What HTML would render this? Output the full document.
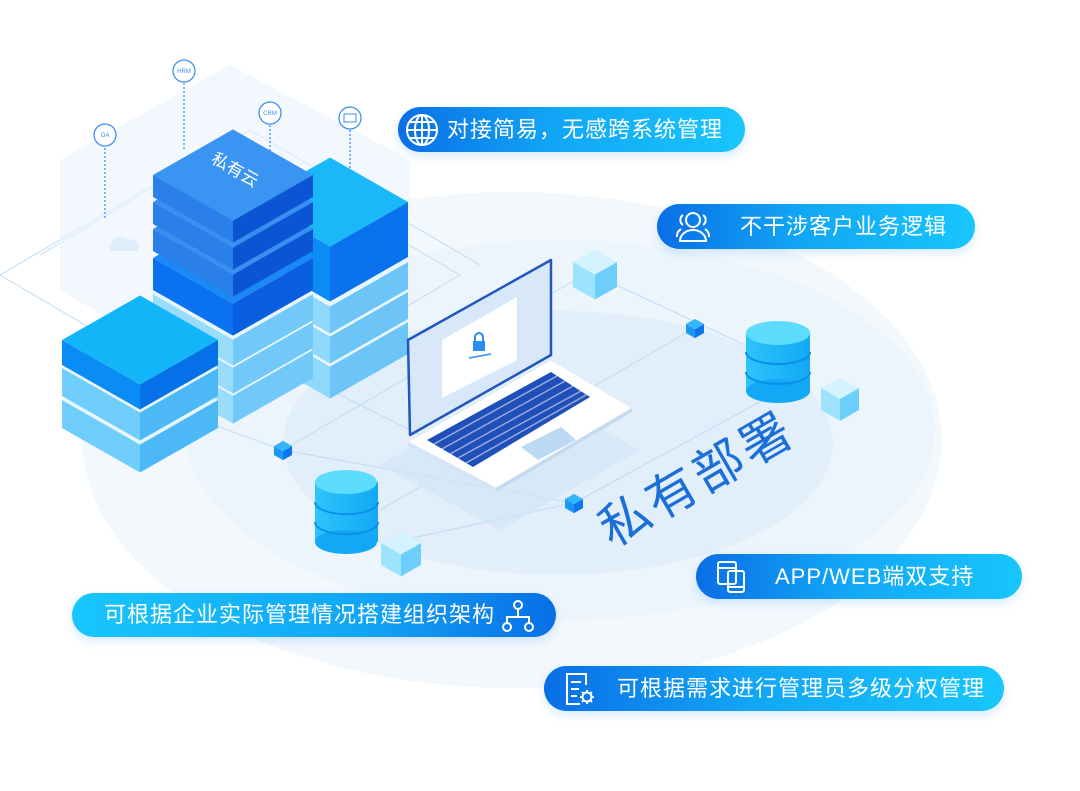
<!DOCTYPE html>
<html><head><meta charset="utf-8"><style>
html,body{margin:0;padding:0;background:#fff;}
body{width:1080px;height:791px;overflow:hidden;position:relative;font-family:"Liberation Sans","Noto Sans CJK SC",sans-serif;}
svg{position:absolute;left:0;top:0;}
.pill{position:absolute;height:45px;border-radius:23px;color:#fff;font-size:22px;letter-spacing:1px;line-height:45px;white-space:nowrap;box-shadow:0 4px 10px rgba(30,140,240,.18);}
.g1{background:linear-gradient(90deg,#0a6ee6,#12a6f5 45%,#18c6fc);}
.g2{background:linear-gradient(90deg,#18c6fc,#12a6f5 60%,#0a6ee6);}
.pill svg{position:absolute;}
.pill span{position:absolute;top:0;}
</style></head><body>
<svg width="1080" height="791" viewBox="0 0 1080 791">
<defs>
<linearGradient id="cyl" x1="0" x2="1"><stop offset="0" stop-color="#2ec4fb"/><stop offset="1" stop-color="#12a8f5"/></linearGradient>
</defs>
<ellipse cx="512" cy="440" rx="430" ry="248" fill="#f3f8fd"/>
<ellipse cx="560" cy="430" rx="375" ry="190" fill="#edf5fc"/>
<ellipse cx="558" cy="443" rx="275" ry="132" fill="#e2eef9"/>
<g stroke="#b9daf5" stroke-width="1" fill="none" opacity=".9">
<polyline points="0,275 230,140 460,275 230,410 0,275"/>
<polyline points="40,255 250,130 480,265"/>
<line x1="283" y1="450" x2="580" y2="277"/>
<line x1="283" y1="450" x2="574" y2="503"/>
<line x1="380" y1="510" x2="695" y2="328"/>
<line x1="574" y1="503" x2="800" y2="380"/>
<line x1="595" y1="275" x2="777" y2="360"/>
<line x1="380" y1="545" x2="574" y2="503"/>
<line x1="200" y1="420" x2="283" y2="450"/>
<line x1="330" y1="390" x2="430" y2="440"/>
</g>
<polygon points="60,160 230,65 410,160 410,290 230,390 60,290" fill="#eaf4fd" opacity=".6"/>
<g stroke="#3d8ff0" fill="#fff" stroke-width="1.3">
<line x1="105" y1="148" x2="105" y2="220" stroke-dasharray="2 2"/>
<line x1="184" y1="83" x2="184" y2="150" stroke-dasharray="2 2"/>
<line x1="270" y1="125" x2="270" y2="190" stroke-dasharray="2 2"/>
<line x1="350" y1="130" x2="350" y2="200" stroke-dasharray="2 2"/>
<circle cx="105" cy="135" r="11"/><circle cx="184" cy="71" r="11"/><circle cx="270" cy="113" r="11"/><circle cx="350" cy="118" r="11"/>
</g>
<g font-size="6" fill="#3d8ff0" text-anchor="middle" font-family="Liberation Sans,sans-serif"><text x="105" y="137">OA</text><text x="184" y="73">HRM</text><text x="270" y="115">CRM</text></g>
<rect x="344" y="114" width="12" height="8" fill="none" stroke="#3d8ff0"/>
<path d="M110,245 q5,-12 18,-6 q12,0 10,12 l-28,0 z" fill="#e0eefb"/>
<g id="boxes"></g>
<polygon points="380,465 520,385 640,450 500,530" fill="#d3e6f7" opacity=".7"/>
<polygon points="408,442 551,360 632,408 496,488" fill="#fff" stroke="#e1edf8"/>
<polygon points="408,442 496,488 496,492 408,446" fill="#d5e5f5"/>
<polygon points="496,488 632,408 632,412 496,492" fill="#c4daf0"/>
<polygon points="427,440 551,372 590,397 473,467" fill="#1f4fb8"/>
<g stroke="#fff" stroke-width="1.4" opacity=".55">
<line x1="434" y1="444" x2="557" y2="376"/><line x1="442" y1="449" x2="565" y2="381"/><line x1="450" y1="454" x2="573" y2="386"/><line x1="458" y1="458" x2="581" y2="391"/><line x1="466" y1="463" x2="586" y2="395"/>
</g>
<polygon points="521,447 561,427 576,440 538,460" fill="#bcd8f3"/>
<polygon points="408,340 551,260 551,355 410,435" fill="#d8e8f8" stroke="#1f56c0" stroke-width="2.5" stroke-linejoin="round"/>
<polygon points="442,340 517,297 517,360 442,398" fill="#fff"/>
<rect x="473" y="341" width="12" height="10" fill="#2a8ef0"/>
<path d="M475,341 v-4 a4,4 0 0 1 8,0 v4" fill="none" stroke="#2a8ef0" stroke-width="2"/>
<line x1="469" y1="358" x2="491" y2="354" stroke="#2a8ef0" stroke-width="1.5"/>
<g>
<rect x="746" y="333" width="64" height="58" fill="url(#cyl)"/>
<ellipse cx="778" cy="391" rx="32" ry="12" fill="#12a8f5"/>
<path d="M746,352 a32,12 0 0 0 64,0 M746,372 a32,12 0 0 0 64,0" stroke="#0b8ee8" stroke-width="2" fill="none"/>
<ellipse cx="778" cy="333" rx="32" ry="12" fill="#5ddcfd"/>
<rect x="315" y="482" width="63" height="60" fill="url(#cyl)"/>
<ellipse cx="346" cy="542" rx="31" ry="12" fill="#12a8f5"/>
<path d="M315,502 a31,12 0 0 0 63,0 M315,522 a31,12 0 0 0 63,0" stroke="#0b8ee8" stroke-width="2" fill="none"/>
<ellipse cx="346" cy="482" rx="31" ry="12" fill="#5ddcfd"/>
</g>
<g id="cubes"></g>
<text x="0" y="0" font-size="50" fill="#1a6fd8" font-family="Liberation Sans,Noto Sans CJK SC,sans-serif" letter-spacing="4" transform="translate(612,548) rotate(-30)">私有部署</text>
</svg>
<script>
function P(a){return a.map(p=>p.join(',')).join(' ');}
function iso(cx,ty,w,h,top,l,r){var d=w*0.57,s='';
s+='<polygon points="'+P([[cx-w,ty],[cx,ty+d],[cx,ty+d+h],[cx-w,ty+h]])+'" fill="'+l+'"/>';
s+='<polygon points="'+P([[cx,ty+d],[cx+w,ty],[cx+w,ty+h],[cx,ty+d+h]])+'" fill="'+r+'"/>';
s+='<polygon points="'+P([[cx-w,ty],[cx,ty-d],[cx+w,ty],[cx,ty+d]])+'" fill="'+top+'"/>';return s;}
var b='';
b+=iso(330,322,78,32,'#e8f6fe','#8fd7fb','#6cc4f7');
b+=iso(330,292,78,27,'#e8f6fe','#8fd7fb','#6cc4f7');
b+=iso(330,262,78,27,'#e8f6fe','#8fd7fb','#6cc4f7');
b+=iso(330,202,78,55,'#1ab8f8','#0a8cf5','#0a72ee');
b+=iso(233,350,80,28,'#e8f6fe','#9adcfb','#72c8f8');
b+=iso(233,322,80,26,'#e8f6fe','#9adcfb','#72c8f8');
b+=iso(233,294,80,26,'#e8f6fe','#9adcfb','#72c8f8');
b+=iso(233,258,80,32,'#1a88f5','#0a72f0','#0a5ee0');
b+=iso(233,229,80,22,'#3a8ff0','#2a7fe8','#0b55d5');
b+=iso(233,202,80,22,'#3a8ff0','#2a7fe8','#0b55d5');
b+=iso(233,175,80,22,'#3a94f2','#2a7fe8','#0b55d5');
b+=iso(140,400,78,28,'#e8f6fe','#6fcdfb','#4cb8f6');
b+=iso(140,368,78,28,'#e8f6fe','#6fcdfb','#4cb8f6');
b+=iso(140,340,78,25,'#12b6f8','#0a8cf5','#0670e8');
document.getElementById('boxes').innerHTML=b+'<text x="0" y="0" font-size="17" fill="#fff" transform="translate(210,162) rotate(30)" font-family="Liberation Sans,Noto Sans CJK SC,sans-serif">私有云</text>';
var c='';
function cube(cx,ty,w,h,a,l,r){c+=iso(cx,ty,w,h,a,l,r);}
cube(595,262,22,25,'#d5f3fe','#9ee3fd','#6ccffb');
cube(840,388,19,22,'#d5f3fe','#9ee3fd','#6ccffb');
cube(401,543,20,22,'#d5f3fe','#9ee3fd','#6ccffb');
cube(695,324,9,9,'#36b6fa','#1a98f3','#0a78ea');
cube(283,446,9,9,'#36b6fa','#1a98f3','#0a78ea');
cube(574,499,9,9,'#36b6fa','#1a98f3','#0a78ea');
document.getElementById('cubes').innerHTML=c;
</script>

<div class="pill g1" style="left:398px;top:107px;width:347px;">
<svg style="left:6px;top:5px" width="36" height="36" viewBox="0 0 36 36"><g fill="none" stroke="#fff" stroke-width="2"><circle cx="18" cy="18" r="15"/><ellipse cx="18" cy="18" rx="7" ry="15"/><line x1="18" y1="3" x2="18" y2="33"/><line x1="3" y1="18" x2="33" y2="18"/><line x1="6" y1="10" x2="30" y2="10"/><line x1="6" y1="26" x2="30" y2="26"/></g></svg>
<span style="left:49px">对接简易，无感跨系统管理</span></div>

<div class="pill g1" style="left:657px;top:204px;width:318px;">
<svg style="left:16px;top:5px" width="40" height="36" viewBox="0 0 40 36"><g fill="none" stroke="#fff" stroke-width="2"><circle cx="20" cy="11" r="7"/><path d="M7,32 a13,11 0 0 1 26,0 z"/><path d="M10,6 a6,6 0 0 0 0,10 M4,28 a10,9 0 0 1 4,-8 M30,6 a6,6 0 0 1 0,10 M36,28 a10,9 0 0 0 -4,-8"/></g></svg>
<span style="left:83px">不干涉客户业务逻辑</span></div>

<div class="pill g1" style="left:696px;top:554px;width:326px;">
<svg style="left:18px;top:5px" width="36" height="36" viewBox="0 0 36 36"><g fill="none" stroke="#fff" stroke-width="2"><rect x="4" y="3" width="18" height="22" rx="2"/><rect x="14" y="12" width="16" height="21" rx="2"/><line x1="4" y1="9" x2="22" y2="9"/><line x1="14" y1="28" x2="30" y2="28"/></g></svg>
<span style="left:79px">APP/WEB端双支持</span></div>

<div class="pill g2" style="left:72px;top:593px;width:484px;height:44px;line-height:44px;">
<span style="left:32px">可根据企业实际管理情况搭建组织架构</span>
<svg style="left:428px;top:5px" width="36" height="36" viewBox="0 0 36 36"><g fill="none" stroke="#fff" stroke-width="2"><circle cx="18" cy="7" r="4"/><circle cx="7" cy="29" r="4"/><circle cx="29" cy="29" r="4"/><path d="M18,11 v8 M7,25 v-6 h22 v6"/></g></svg></div>

<div class="pill g1" style="left:544px;top:666px;width:460px;">
<svg style="left:18px;top:5px" width="36" height="36" viewBox="0 0 36 36"><g fill="none" stroke="#fff" stroke-width="2"><path d="M24,14 V3 H5 V33 H18"/><line x1="9" y1="11" x2="19" y2="11"/><line x1="9" y1="18" x2="17" y2="18"/><line x1="9" y1="25" x2="15" y2="25"/><circle cx="25" cy="26" r="4.5"/><path d="M25,19 v2 M25,31 v2 M18,26 h2 M30,26 h2 M20,21 l1.5,1.5 M28.5,29.5 l1.5,1.5 M20,31 l1.5,-1.5 M28.5,22.5 l1.5,-1.5"/></g></svg>
<span style="left:73px">可根据需求进行管理员多级分权管理</span></div>
</body></html>
